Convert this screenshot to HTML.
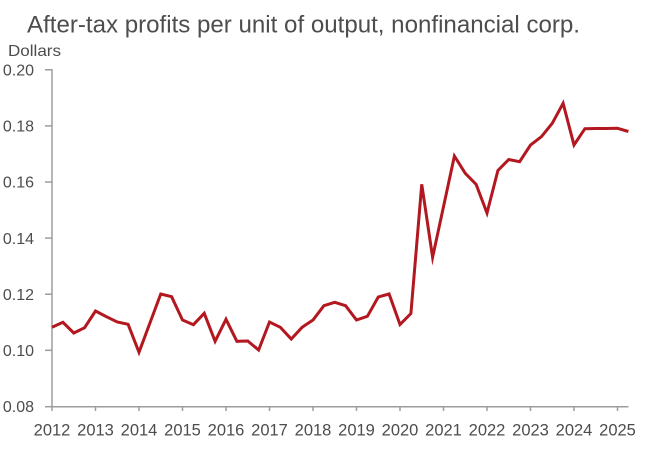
<!DOCTYPE html>
<html>
<head>
<meta charset="utf-8">
<style>
html,body{margin:0;padding:0;background:#fff;}
svg{display:block;}
text{font-family:"Liberation Sans",sans-serif;fill:#4d4d4f;}
</style>
</head>
<body>
<svg width="653" height="472" viewBox="0 0 653 472" xmlns="http://www.w3.org/2000/svg">
  <rect width="653" height="472" fill="#fff"/>
  <text x="27" y="32.5" font-size="24" textLength="553" lengthAdjust="spacingAndGlyphs">After-tax profits per unit of output, nonfinancial corp.</text>
  <text x="8" y="56" font-size="16" textLength="53" lengthAdjust="spacingAndGlyphs">Dollars</text>

  <g stroke="#9d9d9d" stroke-width="1.5" fill="none">
    <line x1="52" y1="69" x2="52" y2="407.5"/>
    <line x1="51.25" y1="406.7" x2="628.5" y2="406.7"/>
    <line x1="45" y1="69.8" x2="52" y2="69.8"/>
    <line x1="45" y1="125.9" x2="52" y2="125.9"/>
    <line x1="45" y1="182" x2="52" y2="182"/>
    <line x1="45" y1="238.1" x2="52" y2="238.1"/>
    <line x1="45" y1="294.2" x2="52" y2="294.2"/>
    <line x1="45" y1="350.3" x2="52" y2="350.3"/>
    <line x1="45" y1="406.7" x2="52" y2="406.7"/>
    <line x1="52" y1="406.7" x2="52" y2="411"/>
    <line x1="95.5" y1="406.7" x2="95.5" y2="411"/>
    <line x1="139" y1="406.7" x2="139" y2="411"/>
    <line x1="182.5" y1="406.7" x2="182.5" y2="411"/>
    <line x1="226" y1="406.7" x2="226" y2="411"/>
    <line x1="269.5" y1="406.7" x2="269.5" y2="411"/>
    <line x1="313" y1="406.7" x2="313" y2="411"/>
    <line x1="356.5" y1="406.7" x2="356.5" y2="411"/>
    <line x1="400" y1="406.7" x2="400" y2="411"/>
    <line x1="443.5" y1="406.7" x2="443.5" y2="411"/>
    <line x1="487" y1="406.7" x2="487" y2="411"/>
    <line x1="530.5" y1="406.7" x2="530.5" y2="411"/>
    <line x1="574" y1="406.7" x2="574" y2="411"/>
    <line x1="617.5" y1="406.7" x2="617.5" y2="411"/>
  </g>

  <g font-size="16" text-anchor="end">
    <text x="34" y="75.5">0.20</text>
    <text x="34" y="131.6">0.18</text>
    <text x="34" y="187.7">0.16</text>
    <text x="34" y="243.8">0.14</text>
    <text x="34" y="299.9">0.12</text>
    <text x="34" y="356">0.10</text>
    <text x="34" y="412.2">0.08</text>
  </g>

  <g font-size="16.5" text-anchor="middle">
    <text x="52" y="435.5">2012</text>
    <text x="95.5" y="435.5">2013</text>
    <text x="139" y="435.5">2014</text>
    <text x="182.5" y="435.5">2015</text>
    <text x="226" y="435.5">2016</text>
    <text x="269.5" y="435.5">2017</text>
    <text x="313" y="435.5">2018</text>
    <text x="356.5" y="435.5">2019</text>
    <text x="400" y="435.5">2020</text>
    <text x="443.5" y="435.5">2021</text>
    <text x="487" y="435.5">2022</text>
    <text x="530.5" y="435.5">2023</text>
    <text x="574" y="435.5">2024</text>
    <text x="617.5" y="435.5">2025</text>
  </g>

  <polyline fill="none" stroke="#b3171f" stroke-width="3" stroke-linejoin="miter" stroke-miterlimit="6" points="
    52,327.3 62.9,322.3 73.75,333 84.6,327.7 95.5,311 106.4,316.7 117.25,322 128.1,324.3
    139,352.3 160.75,294 171.6,296.7 182.5,320 193.4,324.7 204.25,313.3 215.1,341.3
    226,319.3 236.9,341.3 247.75,341 258.6,350 269.5,322 280.4,327.3 291.25,339 302.1,327.3
    313,320 323.9,305.7 334.75,302.3 345.6,305.7 356.5,320 367.4,316.3 378.25,297 389.1,294
    400,324.5 410.9,313.5 421.75,184.3 432.6,257.3 454.4,156 465.25,173.3 476.1,184.3
    487,213 497.9,170.5 508.75,159.5 519.6,161.7 530.5,145 541.4,136.7 552.25,123.3 563.1,103.3
    574,145 584.9,128.7 595.75,128.5 606.6,128.5 617.5,128.3 628.4,131.5"/>
</svg>
</body>
</html>
